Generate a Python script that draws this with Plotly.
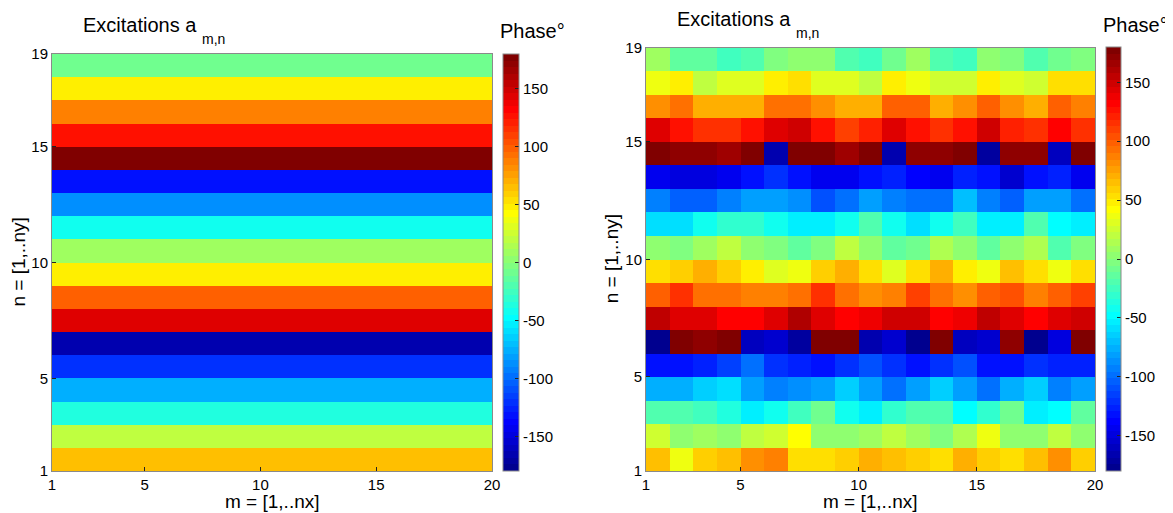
import numpy as np
import plotly.graph_objects as go

# the page adds an 8 px body margin; the figure is sized so it fills the rest
OFF = 8
W, H = 1173 - OFF, 513 - OFF

# ---------------- data ----------------
m_edges = list(range(1, 21))      # column boundaries m = 1..20
n_edges = list(range(1, 20))      # row boundaries n = 1..19
x_ticks = [1, 5, 10, 15, 20]
y_ticks = [1, 5, 10, 15, 19]
cbar_ticks = [-150, -100, -50, 0, 50, 100, 150]

# left: phase per row n = 1..18 (constant along m)
phase_left = [63, 17, -34, -78, -123, -166, 141, 96, 50, 7,
              -45, -90, -135, 176, 128, 85, 50, -11]

# right: phase per cell, rows n = 1..18, columns m = 1..19
r01 = [63, 36, 61, 65, 79, 85, 52, 52, 58, 70, 65, 58, 54, 72, 61, 52, 65, 81, 58]
r02 = [27, 0, 11, 0, 18, 27, 41, 0, 0, 11, 22, 11, -4, 13, 36, 0, 0, 22, 0]
r03 = [-18, -18, -27, -36, -56, -40, -27, -9, -40, -52, -31, -18, -22, -49, -31, -9, -54, -49, -13]
r04 = [-76, -74, -65, -58, -83, -95, -85, -79, -63, -79, -97, -83, -65, -83, -97, -74, -63, -95, -79]
r05 = [-131, -131, -126, -115, -99, -122, -128, -131, -122, -108, -122, -131, -119, -108, -135, -135, -119, -124, -128]
r06 = [-175, 178, 172, 177, -160, -153, -169, 179, 179, -166, -157, -179, 175, -160, -155, 170, -178, -148, 179]
r07 = [157, 144, 144, 131, 131, 146, 162, 146, 131, 135, 151, 151, 133, 135, 157, 146, 131, 146, 151]
r08 = [101, 115, 92, 92, 85, 85, 94, 117, 94, 79, 88, 112, 94, 79, 97, 106, 85, 97, 110]
r09 = [56, 61, 70, 58, 45, 31, 38, 58, 70, 56, 31, 54, 70, 45, 36, 65, 54, 38, 56]
r10 = [0, -4, 9, 22, 0, -4, -13, -4, 18, 4, -13, -9, 13, 4, -13, 0, 13, -18, -4]
r11 = [-58, -58, -45, -32, -32, -40, -56, -56, -40, -22, -45, -58, -40, -27, -54, -54, -22, -49, -56]
r12 = [-95, -106, -103, -92, -81, -79, -90, -108, -97, -81, -92, -99, -101, -72, -92, -106, -81, -83, -97]
r13 = [-144, -148, -151, -146, -131, -119, -135, -146, -146, -131, -124, -139, -144, -128, -135, -153, -131, -126, -146]
r14 = [178, 169, 169, 165, 178, -166, 178, 175, 165, 178, -166, 172, 169, 179, -171, 172, 172, -160, 175]
r15 = [141, 124, 117, 117, 124, 141, 150, 129, 112, 121, 141, 129, 117, 129, 148, 121, 117, 132, 117]
r16 = [81, 94, 70, 73, 73, 94, 94, 81, 73, 73, 96, 96, 73, 79, 96, 79, 70, 96, 85]
r17 = [36, 45, 22, 31, 31, 46, 55, 31, 31, 22, 46, 38, 27, 27, 46, 31, 27, 54, 54]
r18 = [10, -13, -13, -27, -18, -5, 4, 4, -18, -27, -9, 9, -22, -24, 0, -4, -18, -9, -2]
phase_right = [r01, r02, r03, r04, r05, r06, r07, r08, r09, r10,
               r11, r12, r13, r14, r15, r16, r17, r18]

n_cols = len(m_edges) - 1
z_left = [[v] * n_cols for v in phase_left]
z_right = phase_right


# ---------------- MATLAB jet(64) stepped colorscale ----------------
def matlab_jet(m=64):
    n = int(np.ceil(m / 4))
    u = np.concatenate([np.arange(1, n + 1) / n, np.ones(n - 1), np.arange(n, 0, -1) / n])
    g = int(np.ceil(n / 2)) - (1 if m % 4 == 1 else 0) + np.arange(1, len(u) + 1)
    r = g + n
    b = g - n
    J = np.zeros((m, 3))
    for ch, idxs in enumerate([r, g, b]):
        for idx, val in zip(idxs, u):
            if 1 <= idx <= m:
                J[idx - 1, ch] = val
    return J


J = matlab_jet(64)
jet_scale = []
for k, c in enumerate(J):
    col = "rgb(%d,%d,%d)" % tuple(int(round(v * 255)) for v in c)
    jet_scale.append([k / 64, col])
    jet_scale.append([(k + 1) / 64, col])


def px(xp):
    return (xp - OFF) / W


def py(yp):
    return 1 - (yp - OFF) / H


FONT = "Liberation Sans, Arial, Helvetica, sans-serif"

# panel geometry (window pixels)
L = dict(x0=52, x1=492, y0=54, y1=471, cb0=503, cb1=518.5, dy=0, ylab=18)
R = dict(x0=646, x1=1095, y0=47.5, y1=471, cb0=1106, cb1=1121, dy=-6.5, ylab=611)


def cbar(p):
    return dict(
        x=px(p["cb0"]), xanchor="left", xpad=0,
        y=py(p["y1"]), yanchor="bottom", ypad=0,
        len=(p["y1"] - p["y0"]) / H, lenmode="fraction",
        thickness=p["cb1"] - p["cb0"], thicknessmode="pixels",
        outlinewidth=1, outlinecolor="#8a8a8a",
        tickvals=cbar_ticks, ticktext=[str(v) for v in cbar_ticks],
        ticks="inside", ticklen=4, tickcolor="#222",
        tickfont=dict(family=FONT, size=15, color="black"),
    )


fig = go.Figure()
fig.add_trace(go.Heatmap(
    z=z_left, x=m_edges, y=n_edges, zmin=-180, zmax=180,
    colorscale=jet_scale, colorbar=cbar(L), xaxis="x", yaxis="y",
    hoverinfo="skip"))
fig.add_trace(go.Heatmap(
    z=z_right, x=m_edges, y=n_edges, zmin=-180, zmax=180,
    colorscale=jet_scale, colorbar=cbar(R), xaxis="x2", yaxis="y2",
    hoverinfo="skip"))

axis_common = dict(
    showline=True, linecolor="#8a8a8a", linewidth=1, mirror=True,
    ticks="inside", ticklen=4, tickcolor="#222", showgrid=False, zeroline=False,
    tickfont=dict(family=FONT, size=15, color="black"),
)

fig.update_layout(
    width=W, height=H, margin=dict(l=0, r=0, t=0, b=0, autoexpand=False),
    paper_bgcolor="white", plot_bgcolor="white", showlegend=False,
    font=dict(family=FONT, color="black"),
    xaxis=dict(domain=[px(L["x0"]), px(L["x1"])], range=[1, 20], tickvals=x_ticks,
               ticktext=[str(v) for v in x_ticks], anchor="y", **axis_common),
    yaxis=dict(domain=[py(L["y1"]), py(L["y0"])], range=[1, 19], tickvals=y_ticks,
               ticktext=[str(v) for v in y_ticks], anchor="x", **axis_common),
    xaxis2=dict(domain=[px(R["x0"]), px(R["x1"])], range=[1, 20], tickvals=x_ticks,
                ticktext=[str(v) for v in x_ticks], anchor="y2", **axis_common),
    yaxis2=dict(domain=[py(R["y1"]), py(R["y0"])], range=[1, 19], tickvals=y_ticks,
                ticktext=[str(v) for v in y_ticks], anchor="x2", **axis_common),
)

ann = []
for p in (L, R):
    dy = p["dy"]
    base = dict(xref="paper", yref="paper", showarrow=False)
    # title with TeX-like subscript
    ann.append(dict(text="Excitations a", x=px(p["x0"] + 29), y=py(25 + dy),
                    xanchor="left", yanchor="middle",
                    font=dict(family=FONT, size=20), **base))
    ann.append(dict(text="m,n", x=px(p["x0"] + 148), y=py(39 + dy),
                    xanchor="left", yanchor="middle",
                    font=dict(family=FONT, size=14), **base))
    # colorbar title
    ann.append(dict(text="Phase°", x=px(p["cb0"] - 5), y=py(31 + dy),
                    xanchor="left", yanchor="middle",
                    font=dict(family=FONT, size=20), **base))
    # x label
    ann.append(dict(text="m = [1,..nx]", x=px((p["x0"] + p["x1"]) / 2), y=py(501),
                    xanchor="center", yanchor="middle",
                    font=dict(family=FONT, size=19), **base))
    # y label
    ann.append(dict(text="n = [1,..ny]", x=px(p["ylab"]), y=py((p["y0"] + p["y1"]) / 2),
                    xanchor="center", yanchor="middle", textangle=-90,
                    font=dict(family=FONT, size=19), **base))
fig.update_layout(annotations=ann)

fig.write_html("out.html")
